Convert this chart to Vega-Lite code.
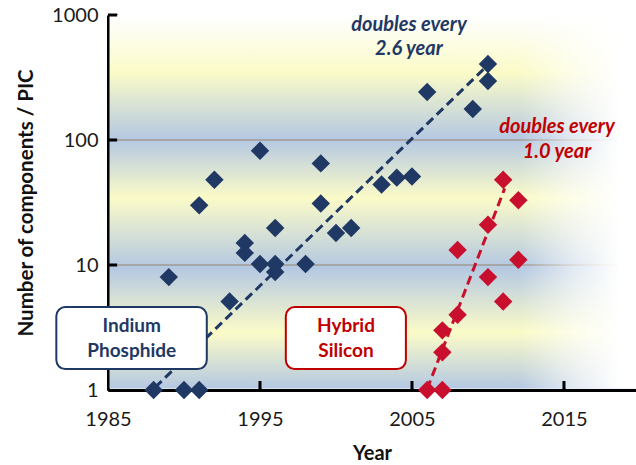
{
  "$schema": "https://vega.github.io/schema/vega-lite/v6.json",
  "width": 528,
  "height": 375,
  "autosize": {"type": "none"},
  "padding": {"left": 108, "top": 15, "right": 0, "bottom": 75},
  "background": "white",
  "config": {"font": "Lato", "view": {"stroke": null}},
  "datasets": {
    "points": [
      {"series": "Indium Phosphide", "year": 1988, "value": 1},
      {"series": "Indium Phosphide", "year": 1989, "value": 8},
      {"series": "Indium Phosphide", "year": 1990, "value": 1},
      {"series": "Indium Phosphide", "year": 1991, "value": 1},
      {"series": "Indium Phosphide", "year": 1991, "value": 30},
      {"series": "Indium Phosphide", "year": 1992, "value": 48},
      {"series": "Indium Phosphide", "year": 1993, "value": 5.1},
      {"series": "Indium Phosphide", "year": 1994, "value": 15},
      {"series": "Indium Phosphide", "year": 1994, "value": 12.5},
      {"series": "Indium Phosphide", "year": 1995, "value": 82},
      {"series": "Indium Phosphide", "year": 1995, "value": 10.2},
      {"series": "Indium Phosphide", "year": 1996, "value": 19.8},
      {"series": "Indium Phosphide", "year": 1996, "value": 10.2},
      {"series": "Indium Phosphide", "year": 1996, "value": 8.8},
      {"series": "Indium Phosphide", "year": 1998, "value": 10.2},
      {"series": "Indium Phosphide", "year": 1999, "value": 65},
      {"series": "Indium Phosphide", "year": 1999, "value": 31},
      {"series": "Indium Phosphide", "year": 2000, "value": 18},
      {"series": "Indium Phosphide", "year": 2001, "value": 19.8},
      {"series": "Indium Phosphide", "year": 2003, "value": 44},
      {"series": "Indium Phosphide", "year": 2004, "value": 50},
      {"series": "Indium Phosphide", "year": 2005, "value": 51},
      {"series": "Indium Phosphide", "year": 2006, "value": 242},
      {"series": "Indium Phosphide", "year": 2009, "value": 177},
      {"series": "Indium Phosphide", "year": 2010, "value": 406},
      {"series": "Indium Phosphide", "year": 2010, "value": 297},
      {"series": "Hybrid Silicon", "year": 2006, "value": 1},
      {"series": "Hybrid Silicon", "year": 2007, "value": 1},
      {"series": "Hybrid Silicon", "year": 2007, "value": 2},
      {"series": "Hybrid Silicon", "year": 2007, "value": 3},
      {"series": "Hybrid Silicon", "year": 2008, "value": 4},
      {"series": "Hybrid Silicon", "year": 2008, "value": 13.2},
      {"series": "Hybrid Silicon", "year": 2010, "value": 21},
      {"series": "Hybrid Silicon", "year": 2010, "value": 8},
      {"series": "Hybrid Silicon", "year": 2011, "value": 5.1},
      {"series": "Hybrid Silicon", "year": 2011, "value": 48},
      {"series": "Hybrid Silicon", "year": 2012, "value": 33},
      {"series": "Hybrid Silicon", "year": 2012, "value": 11}
    ],
    "trends": [
      {"series": "Indium Phosphide", "year": 1988.1, "value": 1.05},
      {"series": "Indium Phosphide", "year": 2009.8, "value": 377},
      {"series": "Hybrid Silicon", "year": 2006, "value": 1.02},
      {"series": "Hybrid Silicon", "year": 2011.1, "value": 41}
    ]
  },
  "layer": [
    {
      "data": {"values": [{}]},
      "mark": {
        "type": "rect",
        "color": {
          "gradient": "linear",
          "x1": 0, "y1": 0, "x2": 0, "y2": 1,
          "stops": [
            {"offset": 0, "color": "#ffffff"},
            {"offset": 0.04, "color": "#fdfdf2"},
            {"offset": 0.155, "color": "#fbfbc8"},
            {"offset": 0.333, "color": "#b4c8e2"},
            {"offset": 0.49, "color": "#fbfbc8"},
            {"offset": 0.675, "color": "#b4c8e2"},
            {"offset": 0.85, "color": "#fbfbc8"},
            {"offset": 1, "color": "#b4c8e2"}
          ]
        }
      },
      "encoding": {
        "x": {"datum": 1985.1, "type": "quantitative", "title": "Year"},
        "x2": {"datum": 2019.74},
        "y": {"datum": 1.028, "type": "quantitative", "title": "Number of components / PIC"},
        "y2": {"datum": 1000}
      }
    },
    {
      "data": {"values": [{}]},
      "mark": {"type": "rule", "color": "#a6a6a6", "strokeWidth": 2},
      "encoding": {"y": {"datum": 10, "type": "quantitative", "title": "Number of components / PIC"}}
    },
    {
      "data": {"values": [{}]},
      "mark": {"type": "rule", "color": "#a6a6a6", "strokeWidth": 2},
      "encoding": {"y": {"datum": 100, "type": "quantitative", "title": "Number of components / PIC"}}
    },
    {
      "data": {"values": [{}]},
      "mark": {
        "type": "rect",
        "color": {
          "gradient": "linear",
          "x1": 0, "y1": 0, "x2": 1, "y2": 0,
          "stops": [
            {"offset": 0, "color": "rgba(255,255,255,0)"},
            {"offset": 0.78, "color": "rgba(255,255,255,0)"},
            {"offset": 0.88, "color": "rgba(255,255,255,0.6)"},
            {"offset": 0.97, "color": "rgba(255,255,255,1)"},
            {"offset": 1, "color": "rgba(255,255,255,1)"}
          ]
        }
      },
      "encoding": {
        "x": {"datum": 1985.1, "type": "quantitative", "title": "Year"},
        "x2": {"datum": 2019.74},
        "y": {"datum": 1.028, "type": "quantitative", "title": "Number of components / PIC"},
        "y2": {"datum": 1000}
      }
    },
    {
      "data": {"values": [{}]},
      "mark": {"type": "rule", "color": "#000000", "strokeWidth": 3},
      "encoding": {
        "x": {"datum": 1985, "type": "quantitative", "title": "Year"},
        "x2": {"datum": 1985.6},
        "y": {"datum": 1000, "type": "quantitative", "title": "Number of components / PIC"}
      }
    },
    {
      "data": {"values": [{}]},
      "mark": {"type": "rule", "color": "#000000", "strokeWidth": 3},
      "encoding": {
        "x": {"datum": 1985, "type": "quantitative", "title": "Year"},
        "x2": {"datum": 1985.6},
        "y": {"datum": 100, "type": "quantitative", "title": "Number of components / PIC"}
      }
    },
    {
      "data": {"values": [{}]},
      "mark": {"type": "rule", "color": "#000000", "strokeWidth": 3},
      "encoding": {
        "x": {"datum": 1985, "type": "quantitative", "title": "Year"},
        "x2": {"datum": 1985.6},
        "y": {"datum": 10, "type": "quantitative", "title": "Number of components / PIC"}
      }
    },
    {
      "data": {"values": [{}]},
      "mark": {"type": "rule", "color": "#000000", "strokeWidth": 3},
      "encoding": {
        "x": {"datum": 1995, "type": "quantitative", "title": "Year"},
        "y": {"datum": 1, "type": "quantitative", "title": "Number of components / PIC"},
        "y2": {"datum": 1.18}
      }
    },
    {
      "data": {"values": [{}]},
      "mark": {"type": "rule", "color": "#000000", "strokeWidth": 3},
      "encoding": {
        "x": {"datum": 2005, "type": "quantitative", "title": "Year"},
        "y": {"datum": 1, "type": "quantitative", "title": "Number of components / PIC"},
        "y2": {"datum": 1.18}
      }
    },
    {
      "data": {"values": [{}]},
      "mark": {"type": "rule", "color": "#000000", "strokeWidth": 3},
      "encoding": {
        "x": {"datum": 2015, "type": "quantitative", "title": "Year"},
        "y": {"datum": 1, "type": "quantitative", "title": "Number of components / PIC"},
        "y2": {"datum": 1.18}
      }
    },
    {
      "data": {"name": "trends"},
      "mark": {"type": "line", "strokeWidth": 3, "strokeDash": [9, 5]},
      "encoding": {
        "x": {"field": "year", "type": "quantitative", "title": "Year"},
        "y": {"field": "value", "type": "quantitative", "title": "Number of components / PIC"},
        "detail": {"field": "series"},
        "color": {
          "field": "series", "type": "nominal", "legend": null,
          "scale": {"domain": ["Indium Phosphide", "Hybrid Silicon"], "range": ["#1f3864", "#c8102e"]}
        }
      }
    },
    {
      "data": {"name": "points"},
      "mark": {"type": "point", "shape": "diamond", "filled": true, "size": 340, "opacity": 1},
      "encoding": {
        "x": {
          "field": "year", "type": "quantitative", "title": "Year",
          "scale": {"domain": [1985, 2019.74], "nice": false, "zero": false},
          "axis": {
            "values": [1985, 1995, 2005, 2015], "format": "d",
            "grid": false, "zindex": 0, "labelFlush": false,
            "domainColor": "#000000", "domainWidth": 3,
            "tickColor": "#000000", "tickWidth": 3, "tickSize": -9,
            "labelFontSize": 20, "labelColor": "#1a1a1a", "labelPadding": 28,
            "titleFontSize": 20, "titleFontWeight": "bold", "titleColor": "#111111", "titlePadding": 14
          }
        },
        "y": {
          "field": "value", "type": "quantitative", "title": "Number of components / PIC",
          "scale": {"type": "log", "domain": [1, 1000], "nice": false},
          "axis": {
            "values": [1, 10, 100, 1000], "format": "d",
            "grid": false, "zindex": 0, "labelFlush": false,
            "domainColor": "#000000", "domainWidth": 3,
            "tickColor": "#000000", "tickWidth": 3, "tickSize": -9,
            "labelFontSize": 20, "labelColor": "#1a1a1a", "labelPadding": 19,
            "titleFontSize": 20.5, "titleFontWeight": "bold", "titleColor": "#111111", "titlePadding": 15
          }
        },
        "color": {
          "field": "series", "type": "nominal", "legend": null,
          "scale": {"domain": ["Indium Phosphide", "Hybrid Silicon"], "range": ["#20509c", "#c0102c"]}
        }
      }
    },
    {
      "data": {"values": [{}]},
      "mark": {"type": "rect", "fill": "white", "stroke": "#1f3864", "strokeWidth": 2, "cornerRadius": 9},
      "encoding": {
        "x": {"datum": 1981.6, "type": "quantitative", "title": "Year"},
        "x2": {"datum": 1991.5},
        "y": {"datum": 1.47, "type": "quantitative", "title": "Number of components / PIC"},
        "y2": {"datum": 4.61}
      }
    },
    {
      "data": {"values": [{}]},
      "mark": {"type": "rect", "fill": "white", "stroke": "#c00000", "strokeWidth": 2, "cornerRadius": 9},
      "encoding": {
        "x": {"datum": 1996.7, "type": "quantitative", "title": "Year"},
        "x2": {"datum": 2004.6},
        "y": {"datum": 1.47, "type": "quantitative", "title": "Number of components / PIC"},
        "y2": {"datum": 4.61}
      }
    },
    {
      "data": {"values": [{}]},
      "mark": {"type": "text", "text": ["Indium", "Phosphide"], "font": "Lato", "fontSize": 19, "fontWeight": "bold", "color": "#1f3864", "align": "center", "baseline": "middle", "lineHeight": 25, "dy": -12},
      "encoding": {
        "x": {"datum": 1986.56, "type": "quantitative", "title": "Year"},
        "y": {"datum": 2.6, "type": "quantitative", "title": "Number of components / PIC"}
      }
    },
    {
      "data": {"values": [{}]},
      "mark": {"type": "text", "text": ["Hybrid", "Silicon"], "font": "Lato", "fontSize": 19, "fontWeight": "bold", "color": "#c00000", "align": "center", "baseline": "middle", "lineHeight": 25, "dy": -12},
      "encoding": {
        "x": {"datum": 2000.66, "type": "quantitative", "title": "Year"},
        "y": {"datum": 2.6, "type": "quantitative", "title": "Number of components / PIC"}
      }
    },
    {
      "data": {"values": [{}]},
      "mark": {"type": "text", "text": ["doubles  every", "2.6 year"], "font": "Lato", "fontSize": 20, "fontWeight": "bold", "fontStyle": "italic", "color": "#1f3864", "align": "center", "baseline": "middle", "lineHeight": 24, "dy": -12},
      "encoding": {
        "x": {"datum": 2004.8, "type": "quantitative", "title": "Year"},
        "y": {"datum": 667, "type": "quantitative", "title": "Number of components / PIC"}
      }
    },
    {
      "data": {"values": [{}]},
      "mark": {"type": "text", "text": ["doubles  every", "1.0 year"], "font": "Lato", "fontSize": 20, "fontWeight": "bold", "fontStyle": "italic", "color": "#c00000", "align": "center", "baseline": "middle", "lineHeight": 25, "dy": -12},
      "encoding": {
        "x": {"datum": 2014.54, "type": "quantitative", "title": "Year"},
        "y": {"datum": 101, "type": "quantitative", "title": "Number of components / PIC"}
      }
    }
  ]
}
